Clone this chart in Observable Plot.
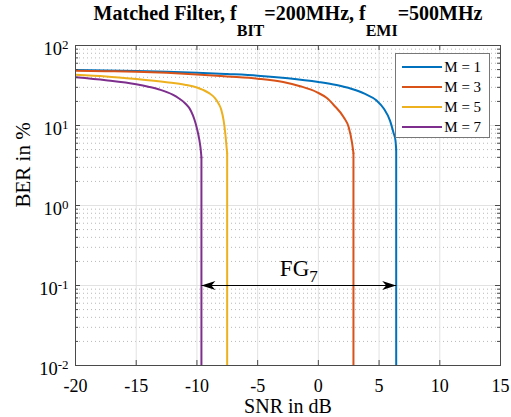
<!DOCTYPE html>
<html><head><meta charset="utf-8">
<script src="https://cdn.jsdelivr.net/npm/d3@7"></script>
<script src="https://cdn.jsdelivr.net/npm/@observablehq/plot@0.6"></script>
<style>
body{margin:0;background:#fff;font-family:"Liberation Serif","Times New Roman",serif;}
#wrap{position:relative;width:511px;height:417px;overflow:hidden;background:#fff;}
#legend{position:absolute;left:395px;top:53px;width:93px;height:83px;border:1px solid #777;background:#fff;}
#legend .item{position:absolute;left:0;width:93px;height:20px;}
#legend .sw{position:absolute;left:5.7px;top:9px;width:40px;height:2px;}
#legend .lb{position:absolute;left:48.3px;top:0;line-height:20px;font-size:15px;color:#000;white-space:nowrap;}
</style></head><body>
<div id="wrap">
<div id="chart"></div>
<div id="legend"></div>
</div>
<script>
// ---- data ----
const seriesNames = ["M = 1", "M = 3", "M = 5", "M = 7"];
const seriesColors = ["#0072BD", "#D95319", "#EDB120", "#7E2F8E"];

// SNR (dB) and BER (%); the last SNR of each series is where it drops vertically
const snrM1 = [-20, -17.5, -15, -12.5, -10, -7.5, -5, -2.5, 0, 1.5, 2.7, 3.8, 4.8, 5.4, 5.9, 6.2, 6.35, 6.41];
const berM1 = [49.5, 48.8, 48, 47, 45.8, 44, 42, 39, 35, 32, 28.8, 25, 20.5, 16.2, 11.5, 8, 6.5, 5];

const snrM3 = [-20, -17.5, -15, -12.5, -10, -7.5, -5, -2.9, -1.5, -0.1, 0.7, 1.3, 2.1, 2.5, 2.78, 2.89];
const berM3 = [48.5, 47.8, 47, 45.5, 43.5, 41, 38.5, 35, 31, 26, 22, 17.8, 12.6, 9.5, 6, 4.5];

const snrM5 = [-20, -17.5, -15, -12.5, -11, -10, -9.5, -9, -8.5, -8.2, -8, -7.8, -7.65, -7.55, -7.51];
const berM5 = [43, 41, 38, 34.7, 32.4, 29.9, 27.9, 25.4, 21.9, 18.6, 15.8, 11.5, 7.6, 5.2, 4.5];

const snrM7 = [-20, -17.5, -15, -14, -13, -12, -11.5, -11, -10.5, -10.2, -10, -9.8, -9.7, -9.63];
const berM7 = [40, 36.7, 32.7, 30.5, 27.9, 24.3, 21.9, 19.1, 15.3, 11.8, 9.2, 6.6, 5.2, 4];

const berFloor = 0.0001; // BER after the drop (below the axis)

const xTicks = [-20, -15, -10, -5, 0, 5, 10, 15];
const xGrid = [-15, -10, -5, 0, 5, 10];
const yTicks = [0.01, 0.1, 1, 10, 100];
const yTickLabels = ["10^{-2}", "10^{-1}", "10^{0}", "10^{1}", "10^{2}"];
const yMinor = [0.02,0.03,0.04,0.05,0.06,0.07,0.08,0.09,
                0.2,0.3,0.4,0.5,0.6,0.7,0.8,0.9,
                2,3,4,5,6,7,8,9,
                20,30,40,50,60,70,80,90];

const fgLabel = "FG_{7}";
const fgStart = -9.63, fgEnd = 6.41, fgLevel = 0.1;

const titleText = "Matched Filter, f_{BIT}=200MHz, f_{EMI}=500MHz";
const xLabel = "SNR in dB";
const yLabel = "BER in %";

// ---- build ----
const allSnr = [snrM1, snrM3, snrM5, snrM7];
const allBer = [berM1, berM3, berM5, berM7];
const rows = seriesNames.flatMap((name, i) => allSnr[i].map((s, j) => ({name, snr: s, ber: allBer[i][j]})));
const drops = seriesNames.map((name, i) => ({name, snr: allSnr[i][allSnr[i].length - 1], top: allBer[i][allBer[i].length - 1], bottom: berFloor}));
const fg = [{x1: fgStart, x2: fgEnd, y: fgLevel, label: fgLabel}];

const W = 511, H = 417, mt = 45, mb = 52, ml = 75, mr = 11;
const fw = W - ml - mr, fh = H - mt - mb;
const FONT = '"Liberation Serif","Times New Roman",serif';
const axisColor = "#4a4a4a";

const headRight = {draw(ctx) { ctx.moveTo(0, 0); ctx.lineTo(-14, -4.5); ctx.lineTo(-10, 0); ctx.lineTo(-14, 4.5); ctx.closePath(); }};
const headLeft = {draw(ctx) { ctx.moveTo(0, 0); ctx.lineTo(14, -4.5); ctx.lineTo(10, 0); ctx.lineTo(14, 4.5); ctx.closePath(); }};

const chart = Plot.plot({
  width: W, height: H,
  marginTop: mt, marginBottom: mb, marginLeft: ml, marginRight: mr,
  style: {fontFamily: FONT, background: "white", color: "black", overflow: "visible"},
  x: {domain: [-20, 15], axis: null},
  y: {type: "log", domain: [0.01, 100], axis: null},
  color: {domain: seriesNames, range: seriesColors},
  marks: [
    Plot.ruleY(yMinor, {stroke: "#b8b8b8", strokeDasharray: "1,3"}),
    Plot.ruleX(xGrid, {stroke: "#e2e2e2"}),
    Plot.ruleY(yTicks, {stroke: "#e2e2e2"}),
    Plot.line(rows, {x: "snr", y: "ber", z: "name", stroke: "name", strokeWidth: 2, curve: "monotone-x", clip: true}),
    Plot.ruleX(drops, {x: "snr", y1: "top", y2: "bottom", stroke: "name", strokeWidth: 2, clip: true}),
    Plot.link(fg, {x1: "x1", x2: "x2", y1: "y", y2: "y", stroke: "black", strokeWidth: 1}),
    Plot.dot(fg, {x: "x2", y: "y", symbol: headRight, fill: "black", stroke: "none"}),
    Plot.dot(fg, {x: "x1", y: "y", symbol: headLeft, fill: "black", stroke: "none"}),
    Plot.text(fg, {x: d => (d.x1 + d.x2) / 2, y: "y", text: "label", fontSize: 23, dy: -16.4, fill: "black"}),
    Plot.tickX(xTicks, {insetTop: fh - 5, stroke: axisColor}),
    Plot.tickX(xTicks, {insetBottom: fh - 5, stroke: axisColor}),
    Plot.tickY(yTicks, {insetRight: fw - 5, stroke: axisColor}),
    Plot.tickY(yTicks, {insetLeft: fw - 5, stroke: axisColor}),
    Plot.tickY(yMinor, {insetRight: fw - 3, stroke: axisColor}),
    Plot.tickY(yMinor, {insetLeft: fw - 3, stroke: axisColor}),
    Plot.frame({stroke: axisColor, strokeWidth: 1}),
    Plot.text(xTicks, {x: d => d, frameAnchor: "bottom", lineAnchor: "top", dy: 14, text: d => String(d), fontSize: 18, fill: "black"}),
    Plot.text(yTicks, {y: d => d, frameAnchor: "left", textAnchor: "end", dx: -7, dy: 4, text: (d, i) => yTickLabels[i], fontSize: 18.5, fill: "black"}),
    Plot.text([xLabel], {frameAnchor: "bottom", lineAnchor: "top", dy: 33.5, text: d => d, fontSize: 20, fill: "black"}),
    Plot.text([yLabel], {frameAnchor: "left", rotate: -90, dx: -52.3, dy: 2, text: d => d, fontSize: 21, fill: "black"}),
    Plot.text([titleText], {frameAnchor: "top", lineAnchor: "top", dy: -40.2, text: d => d, fontSize: 20, fontWeight: "bold", fill: "black"})
  ]
});

// rich-text: ^{...} superscripts and _{...} subscripts, rendered as tspans
function richStyle(t) {
  if (t.startsWith("Matched")) return {sub: 17, subSize: 16, sup: 0, supSize: 0};
  if (t.startsWith("FG")) return {sub: 5.7, subSize: 17, sup: 0, supSize: 0};
  return {sub: 0, subSize: 0, sup: 6.7, supSize: 13};
}
d3.select(chart).selectAll("text").each(function() {
  const t = this.textContent;
  if (!/[_^]\{/.test(t)) return;
  const st = richStyle(t);
  const parts = t.split(/([_^]\{[^}]*\})/).filter(p => p.length);
  const el = d3.select(this); el.text("");
  let shift = 0;
  parts.forEach(p => {
    const ts = el.append("tspan");
    if (p.startsWith("_{")) {
      ts.attr("dy", st.sub - shift).attr("font-size", st.subSize).text(p.slice(2, -1)); shift = st.sub;
    } else if (p.startsWith("^{")) {
      ts.attr("dy", -st.sup - shift).attr("font-size", st.supSize).text(p.slice(2, -1)); shift = -st.sup;
    } else {
      if (shift) ts.attr("dy", -shift);
      ts.text(p); shift = 0;
    }
  });
});

document.getElementById("chart").appendChild(chart);

const legend = d3.select("#legend");
seriesNames.forEach((n, i) => {
  const it = legend.append("div").attr("class", "item").style("top", (12.5 + i * 20.2 - 10) + "px");
  it.append("div").attr("class", "sw").style("background", seriesColors[i]);
  it.append("div").attr("class", "lb").text(n);
});
</script>
</body></html>
